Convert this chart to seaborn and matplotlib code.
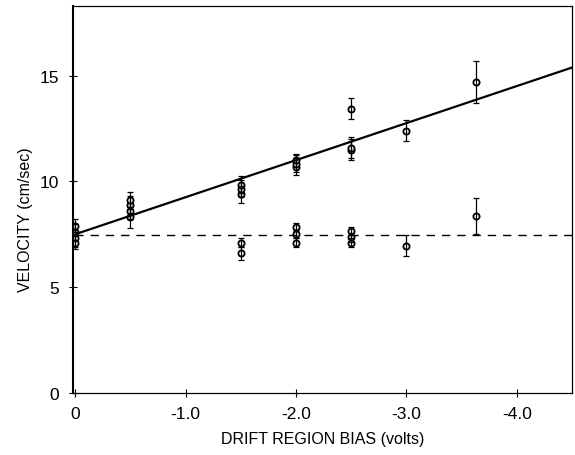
import seaborn as sns
import pandas as pd
import matplotlib
matplotlib.use('Agg')
import matplotlib.pyplot as plt

# velocities that follow the bias (upper group)
upper_x = [0.0, 0.0, 0.0, -0.5, -0.5, -0.5, -0.5, -1.5, -1.5, -1.5,
           -2.0, -2.0, -2.0, -2.5, -2.5, -2.5, -3.0, -3.63]
upper_y = [7.3, 7.6, 7.9, 8.3, 8.6, 8.9, 9.1, 9.4, 9.65, 9.85,
           10.7, 10.85, 11.0, 11.5, 11.6, 13.45, 12.4, 14.7]
upper_err = [0.4, 0.4, 0.3, 0.5, 0.4, 0.4, 0.4, 0.4, 0.4, 0.4,
             0.4, 0.4, 0.3, 0.5, 0.5, 0.5, 0.5, 1.0]

# velocities that stay at the zero-bias value (lower group)
lower_x = [0.0, -1.5, -1.5, -2.0, -2.0, -2.0, -2.5, -2.5, -2.5, -3.0, -3.63]
lower_y = [7.1, 7.1, 6.6, 7.85, 7.5, 7.1, 7.65, 7.35, 7.1, 6.95, 8.35]
lower_err = [0.3, 0.2, 0.3, 0.2, 0.2, 0.2, 0.2, 0.2, 0.2, 0.5, 0.85]

# fitted line and zero-bias level
fit_x = [0.0, -4.5]
fit_y = [7.5, 15.4]
base_level = 7.45

x_ticks = [0, -1, -2, -3, -4]
x_labels = ['0', '-1.0', '-2.0', '-3.0', '-4.0']
y_ticks = [0, 5, 10, 15]

points = pd.DataFrame({'Bias': upper_x + lower_x,
                       'Velocity': upper_y + lower_y,
                       'Err': upper_err + lower_err})
fit = pd.DataFrame({'Bias': fit_x, 'Velocity': fit_y})
base = pd.DataFrame({'Bias': fit_x, 'Velocity': [base_level] * len(fit_x)})

sns.set_theme(style="white")
plt.rcParams['font.family'] = ['Liberation Sans', 'DejaVu Sans']

f, ax = plt.subplots(figsize=(5.75, 4.56), dpi=100)
f.subplots_adjust(left=0.127, right=0.995, bottom=0.137, top=0.984)

sns.lineplot(x='Bias', y='Velocity', data=fit, color='black', linewidth=1.6, ax=ax)
sns.lineplot(x='Bias', y='Velocity', data=base, color='black', linewidth=1.0,
             linestyle=(0, (6, 5)), ax=ax)
ax.errorbar(points['Bias'], points['Velocity'], yerr=points['Err'], fmt='none',
            ecolor='black', elinewidth=0.9, capsize=2.5, capthick=0.9)
sns.scatterplot(x='Bias', y='Velocity', data=points, marker='o', s=20,
                facecolor='white', edgecolor='black', linewidth=1.3, ax=ax)

ax.set_xlim(0.02, -4.5)
ax.set_ylim(0, 18.3)
ax.set_xticks(x_ticks)
ax.set_xticklabels(x_labels)
ax.set_yticks(y_ticks)
ax.tick_params(axis='both', direction='inout', length=6, width=0.8,
               labelsize=12.5, colors='black', bottom=True, left=True)
ax.tick_params(axis='x', pad=7)
ax.tick_params(axis='y', pad=7)
ax.set_xlabel('DRIFT REGION BIAS (volts)', fontsize=11.5, color='black', labelpad=7)
ax.set_ylabel('VELOCITY (cm/sec)', fontsize=11.5, color='black')
ax.yaxis.set_label_coords(-0.08, 0.45)
for side in ax.spines.values():
    side.set_color('black')
    side.set_linewidth(0.9)
ax.spines['left'].set_linewidth(1.5)

plt.savefig('out.png', dpi=100)
